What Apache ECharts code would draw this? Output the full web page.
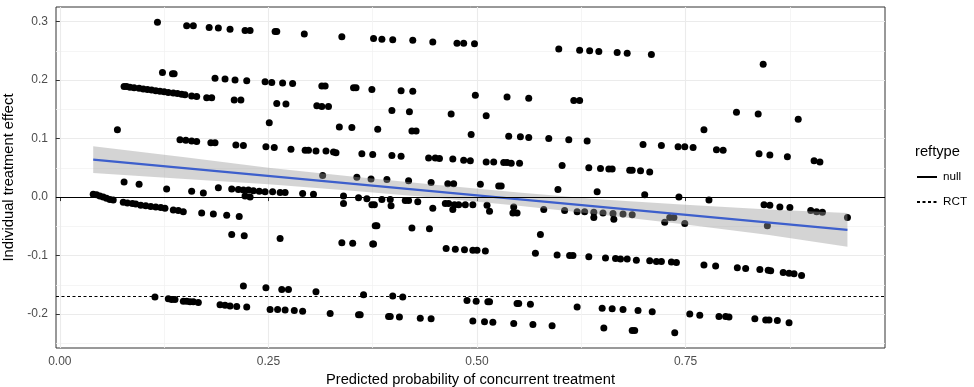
<!DOCTYPE html>
<html>
<head>
<meta charset="utf-8">
<script src="https://cdn.jsdelivr.net/npm/echarts@6/dist/echarts.min.js"></script>
<style>
  html, body { margin: 0; padding: 0; background: #fff; }
  #main { width: 974px; height: 387px; }
</style>
</head>
<body>
<div id="main"></div>
<script>
// [probability, effect]
const points = [
  // top row ~0.3
  [0.117,0.299],[0.152,0.293],[0.160,0.293],[0.179,0.290],[0.190,0.289],[0.204,0.287],[0.222,0.285],[0.228,0.285],
  [0.258,0.283],[0.260,0.283],[0.293,0.279],[0.338,0.274],[0.376,0.271],[0.386,0.270],[0.399,0.269],[0.423,0.268],
  [0.447,0.265],[0.476,0.263],[0.484,0.263],[0.497,0.262],[0.598,0.253],[0.623,0.251],[0.635,0.250],[0.646,0.249],
  [0.668,0.247],[0.680,0.246],[0.709,0.244],[0.843,0.227],
  // row ~0.2
  [0.123,0.213],[0.135,0.211],[0.137,0.211],[0.186,0.203],[0.198,0.202],[0.210,0.200],[0.224,0.199],[0.246,0.197],
  [0.254,0.196],[0.267,0.195],[0.279,0.194],[0.314,0.190],[0.318,0.190],[0.352,0.187],[0.355,0.187],[0.374,0.184],
  [0.409,0.182],[0.423,0.181],[0.498,0.174],[0.536,0.171],[0.562,0.169],[0.616,0.165],[0.623,0.165],
  // row ~0.18 / 0.15
  [0.077,0.189],[0.080,0.189],[0.084,0.188],[0.089,0.187],[0.095,0.186],[0.100,0.185],[0.105,0.184],[0.110,0.183],
  [0.115,0.182],[0.120,0.181],[0.125,0.180],[0.130,0.179],[0.136,0.178],[0.141,0.177],[0.146,0.176],[0.150,0.175],
  [0.158,0.173],[0.164,0.172],[0.176,0.170],[0.182,0.170],[0.209,0.166],[0.217,0.166],[0.260,0.160],[0.271,0.159],
  [0.308,0.156],[0.314,0.155],[0.322,0.155],[0.398,0.148],[0.419,0.146],[0.469,0.142],[0.511,0.139],[0.811,0.145],
  [0.837,0.142],[0.885,0.133],[0.772,0.115],[0.069,0.115],[0.251,0.127],
  // row ~0.1
  [0.144,0.098],[0.151,0.097],[0.158,0.096],[0.164,0.095],[0.181,0.093],[0.186,0.093],[0.211,0.089],[0.220,0.088],
  [0.247,0.086],[0.257,0.085],[0.277,0.082],[0.294,0.080],[0.298,0.080],[0.307,0.079],[0.319,0.079],[0.328,0.077],
  [0.331,0.076],[0.335,0.120],[0.350,0.119],[0.381,0.116],[0.422,0.113],[0.427,0.113],[0.493,0.107],[0.538,0.104],
  [0.552,0.103],[0.562,0.102],[0.586,0.100],[0.610,0.098],[0.632,0.096],[0.699,0.090],[0.721,0.088],[0.741,0.086],
  [0.749,0.086],[0.759,0.085],[0.787,0.081],[0.795,0.080],[0.838,0.074],[0.851,0.072],[0.872,0.069],[0.904,0.062],
  [0.911,0.060],
  // row ~0.06
  [0.362,0.074],[0.375,0.073],[0.398,0.071],[0.409,0.070],[0.442,0.067],[0.450,0.067],[0.455,0.066],[0.471,0.065],
  [0.484,0.063],[0.492,0.062],[0.511,0.060],[0.520,0.060],[0.532,0.059],[0.536,0.059],[0.541,0.058],[0.551,0.058],
  [0.602,0.054],[0.634,0.050],[0.648,0.049],[0.658,0.048],[0.662,0.048],[0.683,0.046],[0.686,0.046],[0.696,0.045],
  [0.707,0.043],
  // row ~0.02
  [0.315,0.037],[0.356,0.034],[0.373,0.031],[0.392,0.030],[0.418,0.028],[0.445,0.025],[0.465,0.023],[0.472,0.023],
  [0.504,0.022],[0.526,0.019],[0.529,0.019],[0.597,0.013],[0.644,0.009],[0.701,0.004],[0.742,0.000],[0.778,-0.005],
  [0.077,0.026],[0.095,0.022],[0.128,0.014],[0.158,0.010],[0.172,0.007],[0.190,0.016],[0.206,0.014],[0.214,0.013],
  [0.220,0.012],[0.226,0.012],[0.232,0.011],[0.239,0.010],[0.246,0.009],[0.255,0.009],[0.264,0.008],[0.270,0.008],
  [0.291,0.006],[0.304,0.005],[0.222,0.002],[0.228,0.000],
  // row around 0
  [0.040,0.005],[0.044,0.004],[0.048,0.002],[0.052,0.000],[0.056,-0.002],[0.060,-0.004],[0.064,-0.005],
  [0.076,-0.009],[0.081,-0.010],[0.087,-0.011],[0.091,-0.012],[0.097,-0.014],[0.103,-0.015],[0.109,-0.016],
  [0.115,-0.017],[0.121,-0.018],[0.126,-0.019],[0.136,-0.022],[0.142,-0.023],[0.148,-0.025],[0.170,-0.027],
  [0.184,-0.029],[0.200,-0.031],[0.215,-0.033],[0.206,-0.064],[0.221,-0.066],[0.264,-0.071],
  [0.340,0.002],[0.340,-0.011],[0.358,-0.001],[0.368,-0.003],[0.374,-0.013],[0.377,-0.013],[0.386,-0.004],
  [0.396,-0.004],[0.397,-0.015],[0.414,-0.006],[0.418,-0.006],[0.429,-0.008],[0.447,-0.019],[0.462,-0.011],
  [0.466,-0.011],[0.471,-0.021],[0.473,-0.013],[0.478,-0.013],[0.486,-0.013],[0.495,-0.013],[0.512,-0.014],
  [0.515,-0.024],[0.544,-0.017],[0.543,-0.027],[0.548,-0.027],[0.580,-0.021],[0.605,-0.023],[0.620,-0.025],
  [0.629,-0.025],[0.640,-0.026],[0.640,-0.035],[0.651,-0.027],[0.663,-0.028],[0.664,-0.038],[0.675,-0.029],
  [0.686,-0.030],[0.725,-0.043],[0.731,-0.035],[0.736,-0.035],[0.749,-0.045],[0.844,-0.013],[0.851,-0.014],
  [0.863,-0.017],[0.875,-0.018],[0.848,-0.049],[0.900,-0.023],[0.907,-0.025],[0.914,-0.026],[0.944,-0.035],
  // row ~-0.05 / -0.1
  [0.378,-0.049],[0.380,-0.049],[0.422,-0.053],[0.443,-0.054],[0.338,-0.078],[0.351,-0.079],[0.375,-0.080],
  [0.376,-0.080],[0.463,-0.088],[0.474,-0.089],[0.485,-0.090],[0.495,-0.091],[0.500,-0.091],[0.510,-0.092],
  [0.576,-0.064],[0.570,-0.096],[0.596,-0.099],[0.611,-0.100],[0.615,-0.100],[0.634,-0.102],[0.654,-0.104],
  [0.666,-0.105],[0.672,-0.106],[0.680,-0.106],[0.691,-0.108],[0.707,-0.109],[0.715,-0.110],[0.721,-0.110],
  [0.733,-0.111],[0.739,-0.112],[0.772,-0.116],[0.786,-0.118],[0.812,-0.121],[0.822,-0.122],[0.839,-0.124],
  [0.849,-0.125],[0.852,-0.126],[0.867,-0.129],[0.874,-0.130],[0.880,-0.131],[0.889,-0.134],
  // row ~-0.17
  [0.114,-0.171],[0.130,-0.174],[0.134,-0.175],[0.138,-0.175],[0.148,-0.178],[0.152,-0.178],[0.156,-0.179],
  [0.160,-0.179],[0.166,-0.180],[0.192,-0.184],[0.198,-0.185],[0.204,-0.186],[0.212,-0.187],[0.224,-0.188],
  [0.220,-0.152],[0.247,-0.155],[0.266,-0.158],[0.274,-0.158],[0.307,-0.162],[0.364,-0.167],[0.399,-0.169],
  [0.411,-0.171],[0.488,-0.177],[0.499,-0.178],[0.513,-0.179],[0.515,-0.179],[0.548,-0.182],[0.550,-0.182],
  [0.564,-0.183],[0.620,-0.188],[0.650,-0.190],[0.662,-0.191],[0.675,-0.192],[0.693,-0.194],[0.710,-0.196],
  [0.755,-0.200],[0.767,-0.202],[0.790,-0.204],[0.798,-0.204],[0.802,-0.205],[0.833,-0.208],[0.846,-0.210],
  [0.850,-0.210],[0.860,-0.211],[0.874,-0.215],
  // row ~-0.2
  [0.252,-0.192],[0.261,-0.192],[0.270,-0.193],[0.281,-0.194],[0.291,-0.195],[0.324,-0.199],[0.358,-0.201],
  [0.360,-0.201],[0.394,-0.204],[0.396,-0.204],[0.407,-0.205],[0.432,-0.207],[0.445,-0.208],[0.495,-0.212],
  [0.509,-0.213],[0.519,-0.214],[0.544,-0.216],[0.567,-0.218],[0.590,-0.220],[0.652,-0.224],[0.686,-0.228],
  [0.689,-0.228],[0.737,-0.232]
];

// linear fit and its confidence band
const fitX = [0.040, 0.944];
const fitY = [0.064, -0.056];
const bandX = [0.040, 0.15, 0.25, 0.35, 0.45, 0.55, 0.65, 0.75, 0.85, 0.944];
const bandUpper = [0.087, 0.068, 0.050, 0.035, 0.021, 0.008, -0.004, -0.013, -0.021, -0.027];
const bandLower = [0.041, 0.031, 0.022, 0.011, -0.001, -0.015, -0.030, -0.047, -0.065, -0.085];

// reference lines
const refNames = ['null', 'RCT'];
const refValues = [0, -0.17];

const xTicks = [0, 0.25, 0.5, 0.75];
const xMinor = [0.125, 0.375, 0.625, 0.875];
const yTicks = [-0.2, -0.1, 0, 0.1, 0.2, 0.3];
const yMinor = [-0.25, -0.15, -0.05, 0.05, 0.15, 0.25];

var chart = echarts.init(document.getElementById('main'));
var font = 'Liberation Sans, Arial, sans-serif';
var dash = [3, 2.5];

var option = {
  animation: false,
  textStyle: { fontFamily: font },
  grid: {
    left: 56, right: 89, top: 7, bottom: 39,
    outerBoundsMode: 'none', containLabel: false,
    show: true, borderColor: '#333', borderWidth: 1, backgroundColor: 'transparent'
  },
  title: {
    text: 'reftype', left: 910, top: 139,
    textStyle: { fontSize: 14.7, fontWeight: 'normal', color: '#000', fontFamily: font }
  },
  legend: {
    data: refNames, orient: 'vertical', left: 911, top: 166,
    itemWidth: 20, itemHeight: 14, itemGap: 13,
    itemStyle: { opacity: 0 },
    textStyle: { fontSize: 11.7, color: '#000', padding: [0, 0, 0, 1] },
    selectedMode: false
  },
  xAxis: [
    {
      type: 'value', min: -0.0046, max: 0.989,
      name: 'Predicted probability of concurrent treatment',
      nameLocation: 'middle', nameGap: 22,
      nameTextStyle: { fontSize: 14.7, color: '#000' },
      axisLine: { show: false },
      axisTick: { show: true, length: 4, customValues: xTicks, lineStyle: { color: '#333' } },
      axisLabel: {
        customValues: xTicks, fontSize: 12, color: '#4d4d4d', margin: 8,
        formatter: function (v) { return v.toFixed(2); }
      },
      splitLine: { show: true, lineStyle: { color: '#ebebeb', width: 1.1 } }
    },
    {
      type: 'value', min: -0.0046, max: 0.989, position: 'top',
      axisLine: { show: false }, axisLabel: { show: false },
      axisTick: { show: false, customValues: xMinor },
      splitLine: { show: true, lineStyle: { color: '#f2f2f2', width: 0.8 } }
    }
  ],
  yAxis: [
    {
      type: 'value', min: -0.258, max: 0.325,
      name: 'Individual treatment effect',
      nameLocation: 'middle', nameGap: 27,
      nameTextStyle: { fontSize: 14.7, color: '#000' },
      axisLine: { show: false },
      axisTick: { show: true, length: 4, customValues: yTicks, lineStyle: { color: '#333' } },
      axisLabel: {
        customValues: yTicks, fontSize: 12, color: '#4d4d4d', margin: 8,
        formatter: function (v) { return v.toFixed(1); }
      },
      splitLine: { show: true, lineStyle: { color: '#ebebeb', width: 1.1 } }
    },
    {
      type: 'value', min: -0.258, max: 0.325, position: 'right',
      axisLine: { show: false }, axisLabel: { show: false },
      axisTick: { show: false, customValues: yMinor },
      splitLine: { show: true, lineStyle: { color: '#f2f2f2', width: 0.8 } }
    }
  ],
  series: [
    {
      type: 'scatter', z: 2, silent: true,
      symbol: 'circle', symbolSize: 7,
      itemStyle: { color: '#000', opacity: 1 },
      data: points
    },
    {
      type: 'custom', z: 3, silent: true,
      data: [[0, 0]],
      renderItem: function (params, api) {
        var pts = [];
        for (var i = 0; i < bandX.length; i++) pts.push(api.coord([bandX[i], bandUpper[i]]));
        for (var j = bandX.length - 1; j >= 0; j--) pts.push(api.coord([bandX[j], bandLower[j]]));
        return { type: 'polygon', shape: { points: pts }, style: { fill: 'rgba(153,153,153,0.42)' } };
      }
    },
    {
      type: 'line', z: 4, silent: true, symbol: 'none',
      lineStyle: { color: '#3d5fcc', width: 2.1 },
      data: fitX.map(function (x, i) { return [x, fitY[i]]; })
    },
    {
      name: refNames[0], type: 'line', z: 5, symbol: 'none', data: [],
      itemStyle: { color: '#000' },
      lineStyle: { color: '#000', width: 1.1, type: 'solid' },
      markLine: {
        silent: true, symbol: ['none', 'none'], label: { show: false },
        lineStyle: { color: '#000', width: 1.1, type: 'solid' },
        data: [{ yAxis: refValues[0] }]
      }
    },
    {
      name: refNames[1], type: 'line', z: 5, symbol: 'none', data: [],
      itemStyle: { color: '#000' },
      lineStyle: { color: '#000', width: 1.1, type: dash },
      markLine: {
        silent: true, symbol: ['none', 'none'], label: { show: false },
        lineStyle: { color: '#000', width: 1.1, type: dash },
        data: [{ yAxis: refValues[1] }]
      }
    }
  ]
};

chart.setOption(option);
</script>
</body>
</html>
